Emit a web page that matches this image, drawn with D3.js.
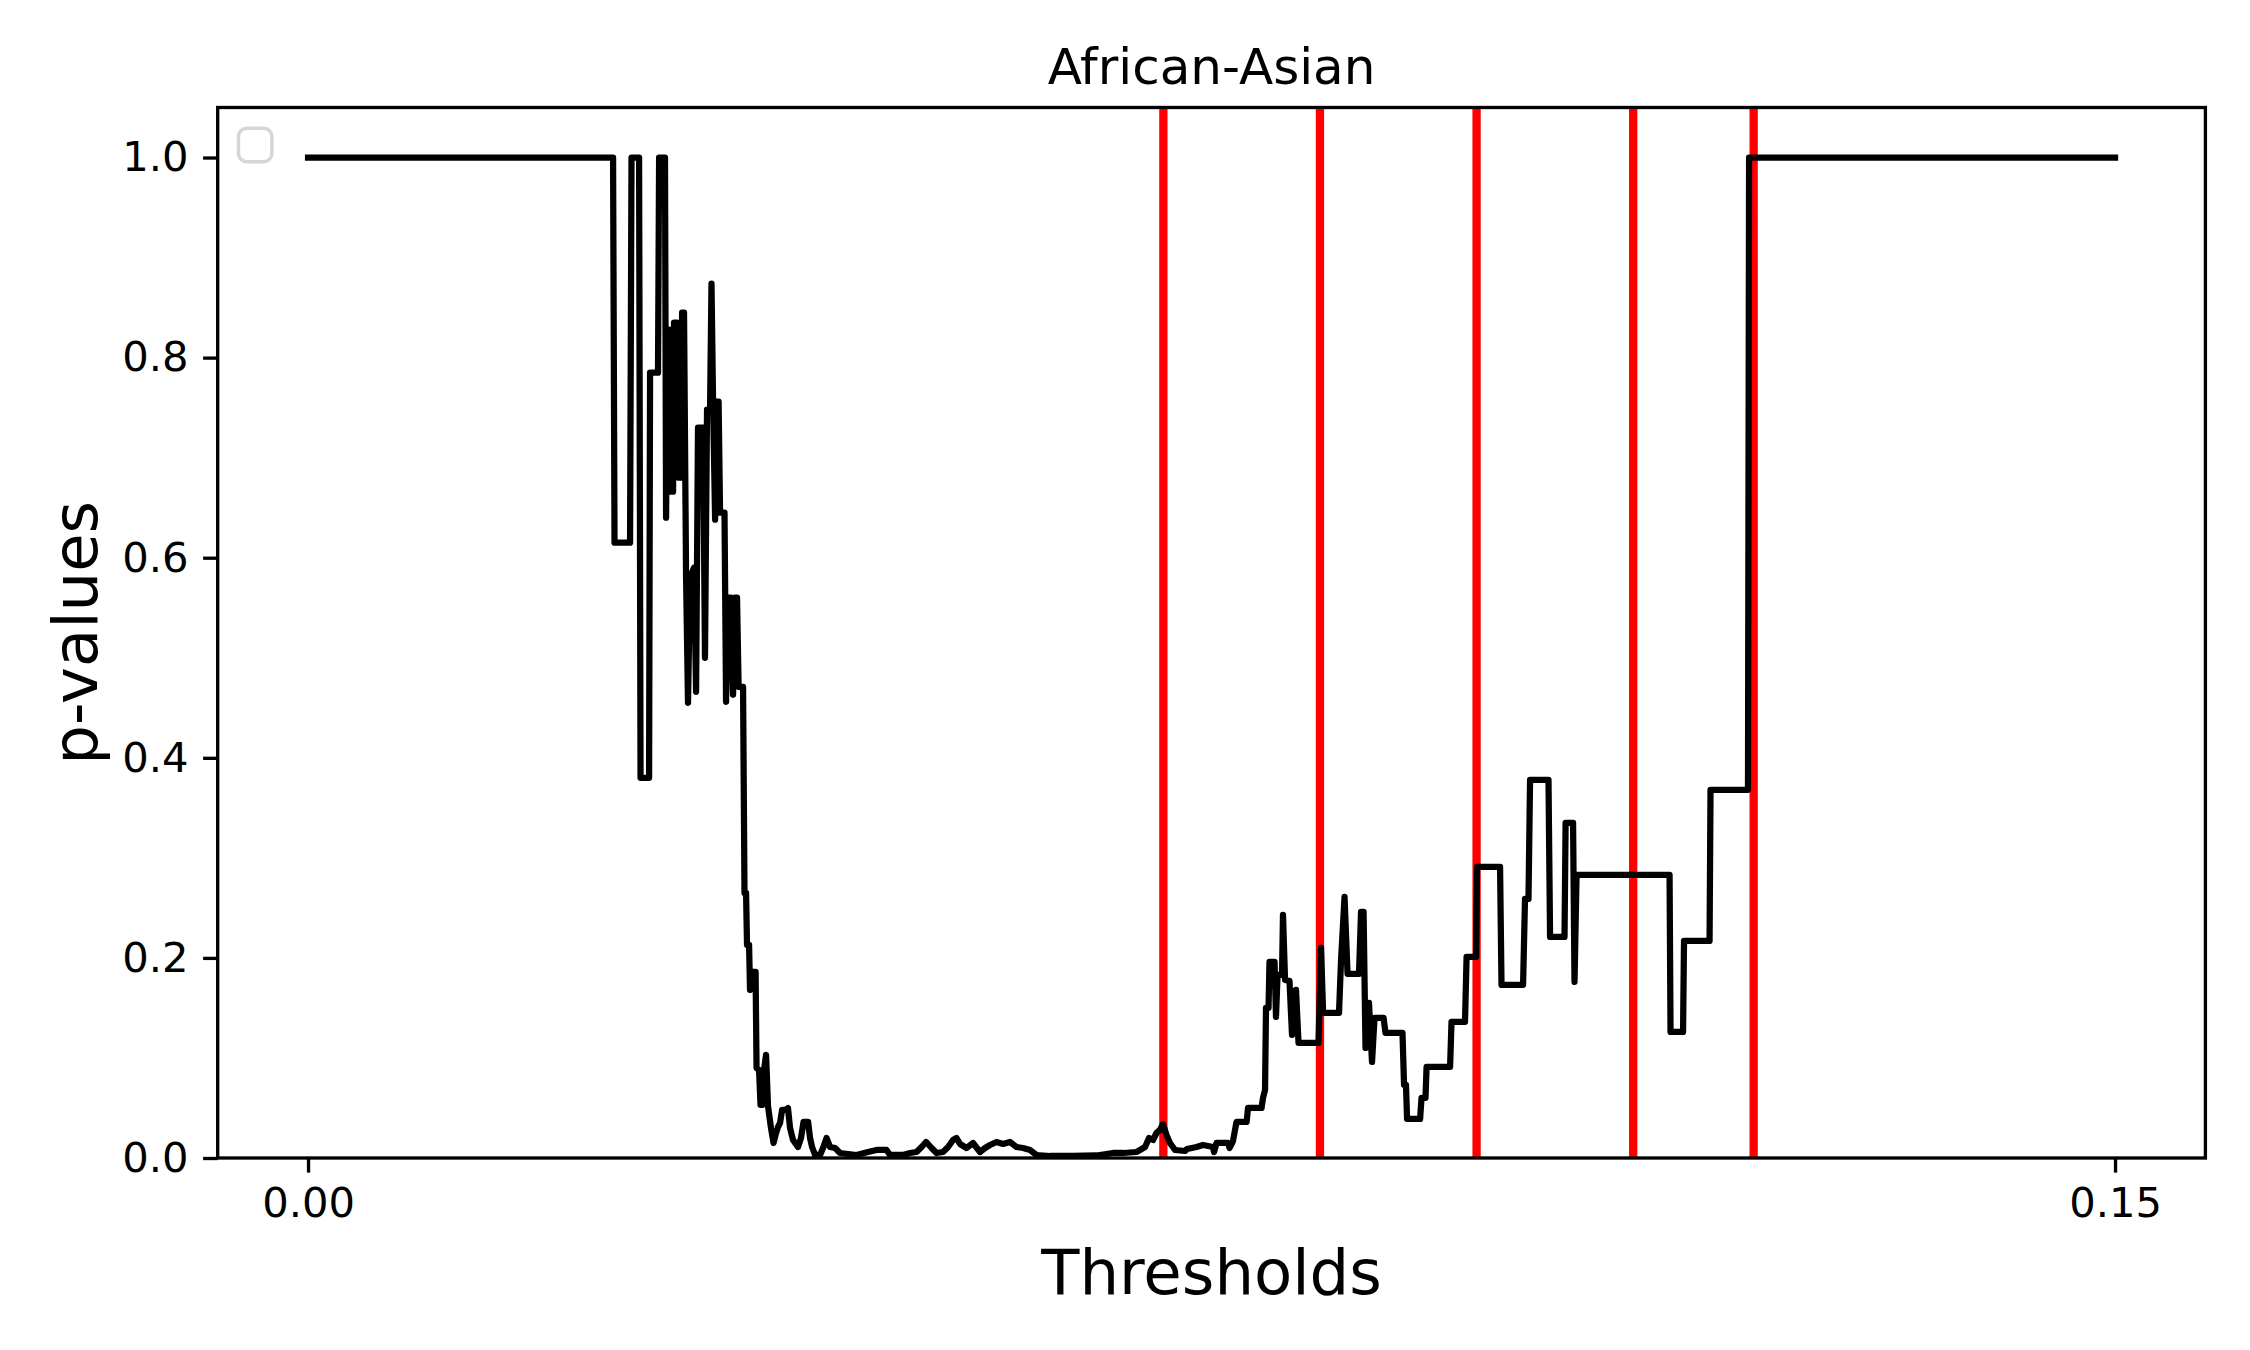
<!DOCTYPE html>
<html><head><meta charset="utf-8">
<script src="https://cdn.jsdelivr.net/npm/d3@7"></script>
<style>html,body{margin:0;padding:0;background:#fff;} svg{display:block;font-family:"DejaVu Sans",sans-serif;}</style>
</head><body><svg id="chart" width="2250" height="1350"></svg>
<script>
const thresholds = [0,0.02532,0.02544,0.02673,0.02685,0.02748,0.02760,0.02831,0.02839,0.02905,0.02914,0.02963,0.02972,0.02984,0.02997,0.03005,0.03030,0.03038,0.03063,0.03076,0.03096,0.03105,0.03121,0.03138,0.03154,0.03171,0.03204,0.03221,0.03237,0.03279,0.03295,0.03312,0.03337,0.03349,0.03362,0.03379,0.03391,0.03408,0.03420,0.03457,0.03470,0.03486,0.03511,0.03528,0.03545,0.03561,0.03574,0.03611,0.03623,0.03636,0.03644,0.03661,0.03669,0.03686,0.03694,0.03715,0.03723,0.03744,0.03756,0.03769,0.03785,0.03802,0.03818,0.03843,0.03864,0.03885,0.03901,0.03918,0.03935,0.03960,0.03984,0.04001,0.04026,0.04067,0.04092,0.04113,0.04151,0.04167,0.04184,0.04209,0.04250,0.04275,0.04304,0.04333,0.04375,0.04416,0.04553,0.04649,0.04719,0.04802,0.04831,0.04939,0.04997,0.05051,0.05093,0.05130,0.05176,0.05217,0.05271,0.05313,0.05354,0.05383,0.05412,0.05466,0.05520,0.05578,0.05620,0.05661,0.05715,0.05769,0.05827,0.05881,0.05935,0.05993,0.06047,0.06159,0.06350,0.06545,0.06682,0.06765,0.06877,0.06906,0.06948,0.06981,0.07014,0.07043,0.07072,0.07097,0.07126,0.07155,0.07197,0.07280,0.07297,0.07375,0.07429,0.07512,0.07521,0.07541,0.07637,0.07649,0.07678,0.07707,0.07791,0.07803,0.07915,0.07927,0.07944,0.07952,0.07973,0.07981,0.08023,0.08035,0.08048,0.08085,0.08093,0.08110,0.08147,0.08168,0.08201,0.08222,0.08388,0.08409,0.08426,0.08558,0.08575,0.08604,0.08629,0.08724,0.08741,0.08762,0.08778,0.08807,0.08832,0.08853,0.08928,0.08944,0.09085,0.09098,0.09114,0.09123,0.09231,0.09243,0.09276,0.09285,0.09480,0.09492,0.09604,0.09617,0.09696,0.09704,0.09895,0.09907,0.10086,0.10102,0.10131,0.10144,0.10297,0.10310,0.10430,0.10439,0.10501,0.10513,0.10530,0.11302,0.11310,0.11414,0.11422,0.11634,0.11642,0.11953,0.11962,0.15];
const pvalues = [1.0,1.0,0.615,0.615,1.0,1.0,0.38,0.38,0.785,0.785,1.0,1.0,0.64,0.828,0.828,0.666,0.666,0.835,0.835,0.68,0.68,0.845,0.845,0.58,0.455,0.58,0.59,0.466,0.73,0.73,0.50,0.748,0.748,0.874,0.756,0.638,0.756,0.756,0.645,0.645,0.456,0.56,0.56,0.463,0.56,0.56,0.471,0.471,0.265,0.265,0.213,0.213,0.168,0.17,0.186,0.186,0.09,0.088,0.053,0.053,0.088,0.103,0.052,0.03,0.015,0.025,0.031,0.035,0.048,0.048,0.05,0.03,0.018,0.011,0.02,0.036,0.036,0.02,0.011,0.003,0.003,0.01,0.02,0.011,0.01,0.005,0.003,0.006,0.008,0.008,0.003,0.003,0.005,0.006,0.011,0.016,0.01,0.005,0.006,0.011,0.018,0.02,0.014,0.01,0.015,0.006,0.01,0.013,0.016,0.014,0.016,0.011,0.01,0.008,0.003,0.002,0.002,0.0025,0.005,0.005,0.006,0.008,0.011,0.02,0.018,0.025,0.028,0.034,0.023,0.015,0.008,0.007,0.009,0.011,0.013,0.011,0.006,0.015,0.015,0.01,0.017,0.036,0.036,0.05,0.05,0.06,0.068,0.15,0.15,0.196,0.196,0.141,0.183,0.183,0.243,0.178,0.177,0.123,0.168,0.115,0.115,0.21,0.145,0.145,0.198,0.261,0.184,0.184,0.246,0.246,0.11,0.155,0.096,0.14,0.14,0.125,0.125,0.073,0.073,0.039,0.039,0.06,0.06,0.091,0.091,0.136,0.136,0.201,0.201,0.291,0.291,0.173,0.173,0.259,0.259,0.378,0.378,0.221,0.221,0.335,0.335,0.176,0.283,0.283,0.126,0.126,0.217,0.217,0.368,0.368,1.0,1.0];
const cutoffs = [0.071, 0.084, 0.097, 0.110, 0.120];
const xTicks = [0.00, 0.15];
const yTicks = [0.0, 0.2, 0.4, 0.6, 0.8, 1.0];
const titleText = "African-Asian";
const xLabel = "Thresholds";
const yLabel = "p-values";

const svg = d3.select("#chart");
const plot = {left: 217.7, right: 2205.4, top: 107.5, bottom: 1158};
const x = d3.scaleLinear().domain([-0.0075, 0.1575]).range([plot.left, plot.right]);
const y = d3.scaleLinear().domain([0, 1.05]).range([plot.bottom, plot.top]);

svg.append("defs").append("clipPath").attr("id", "clip")
  .append("rect").attr("x", plot.left).attr("y", plot.top)
  .attr("width", plot.right - plot.left).attr("height", plot.bottom - plot.top);

const g = svg.append("g").attr("clip-path", "url(#clip)");

// red cutoff lines
g.selectAll("line.cut").data(cutoffs).enter().append("line")
  .attr("class", "cut")
  .attr("x1", d => x(d)).attr("x2", d => x(d))
  .attr("y1", plot.top).attr("y2", plot.bottom)
  .attr("stroke", "#ff0000").attr("stroke-width", 8.3);

// p-value line
const pts = thresholds.map((t, i) => [t, pvalues[i]]);
const line = d3.line().x(d => x(d[0])).y(d => y(d[1]));
g.append("path").datum(pts).attr("d", line)
  .attr("fill", "none").attr("stroke", "#000").attr("stroke-width", 6.25)
  .attr("stroke-linejoin", "round").attr("stroke-linecap", "square");

// axes
const fs = 41.7;
const xAxis = d3.axisBottom(x).tickValues(xTicks).tickFormat(d3.format(".2f"))
  .tickSize(14.6).tickPadding(14.6).tickSizeOuter(0);
const yAxis = d3.axisLeft(y).tickValues(yTicks).tickFormat(d3.format(".1f"))
  .tickSize(14.6).tickPadding(14.6).tickSizeOuter(0);

const gx = svg.append("g").attr("transform", `translate(0,${plot.bottom})`).call(xAxis);
const gy = svg.append("g").attr("transform", `translate(${plot.left},0)`).call(yAxis);
[gx, gy].forEach(a => {
  a.select(".domain").remove();
  a.selectAll(".tick line").attr("stroke", "#000").attr("stroke-width", 3.33);
  a.selectAll(".tick text").attr("fill", "#000").style("font-size", fs + "px")
    .style("font-family", '"DejaVu Sans", sans-serif');
});

// frame
svg.append("rect").attr("x", plot.left).attr("y", plot.top)
  .attr("width", plot.right - plot.left).attr("height", plot.bottom - plot.top)
  .attr("fill", "none").attr("stroke", "#000").attr("stroke-width", 3.33)
  .attr("stroke-linejoin", "miter");

// empty legend box
svg.append("rect").attr("x", plot.left + 20.8).attr("y", plot.top + 20.8)
  .attr("width", 33.4).attr("height", 33.4).attr("rx", 8.3).attr("ry", 8.3)
  .attr("fill", "#fff").attr("fill-opacity", 0.8)
  .attr("stroke", "#d6d6d6").attr("stroke-width", 3.5);

// title and labels
svg.append("text").attr("x", (plot.left + plot.right) / 2).attr("y", 84)
  .attr("text-anchor", "middle").style("font-size", "50px").attr("fill", "#000")
  .text(titleText);
svg.append("text").attr("x", (plot.left + plot.right) / 2).attr("y", 1294)
  .attr("text-anchor", "middle").style("font-size", "62.5px").attr("fill", "#000")
  .text(xLabel);
svg.append("text").attr("transform", `translate(97,${(plot.top + plot.bottom) / 2}) rotate(-90)`)
  .attr("text-anchor", "middle").style("font-size", "62.5px").attr("fill", "#000")
  .text(yLabel);
</script></body></html>
